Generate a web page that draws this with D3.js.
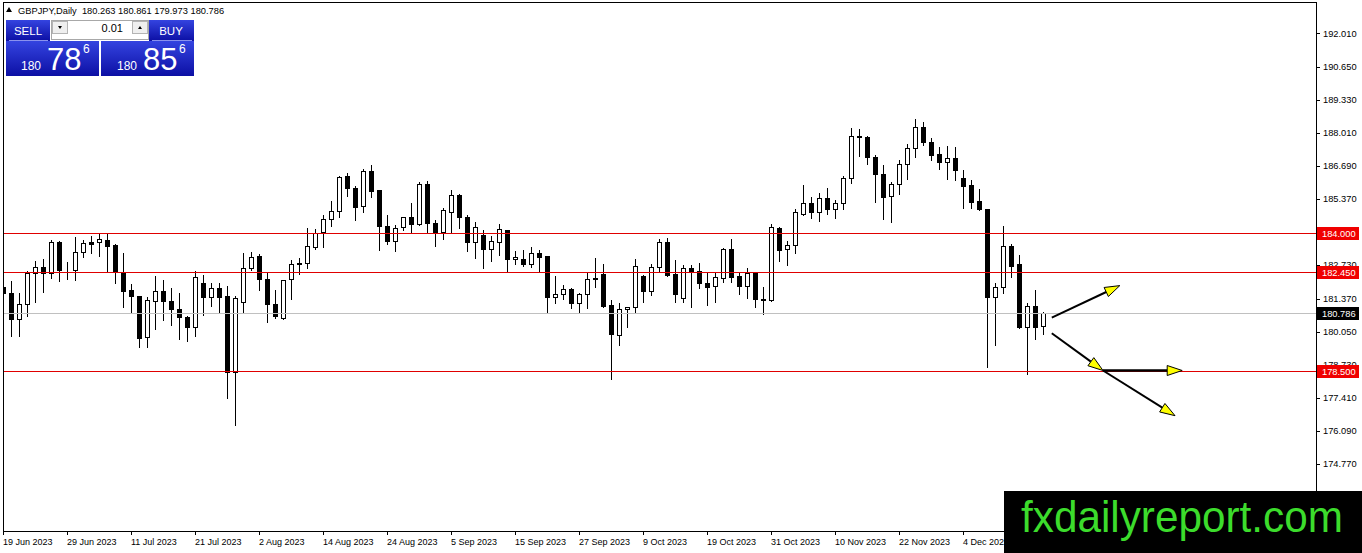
<!DOCTYPE html>
<html>
<head>
<meta charset="utf-8">
<script src="https://cdnjs.cloudflare.com/ajax/libs/d3/7.8.5/d3.min.js"></script>
<style>
  body { margin: 0; background: #fff; overflow: hidden; }
  svg { display: block; }
  text { font-family: "Liberation Sans", Arial, sans-serif; }
</style>
</head>
<body>
<div id="chart"></div>
<script>
// GBPJPY daily candles, 19 Jun 2023 .. 18 Dec 2023
const opens = [181.86,181.60,180.56,181.16,182.39,182.63,182.39,183.63,182.57,182.54,
  183.23,183.63,183.63,183.72,183.52,182.43,181.73,181.50,179.86,181.29,
  181.70,181.30,180.96,180.64,180.24,181.99,181.46,181.80,181.49,178.44,
  181.24,182.59,183.10,182.17,181.16,180.60,182.15,182.79,182.79,183.43,
  184.05,184.55,184.89,186.28,185.83,185.09,186.48,185.72,184.28,183.69,
  184.23,184.64,184.36,185.99,184.39,184.05,184.85,185.55,184.63,183.65,
  183.92,183.35,183.65,184.12,182.95,182.96,182.75,183.21,183.08,181.46,
  181.55,181.77,181.20,181.55,182.19,182.35,181.13,179.93,180.96,181.04,
  182.29,181.70,182.66,183.63,182.35,181.40,182.59,182.49,181.99,181.89,
  182.19,183.36,182.29,181.90,182.42,181.36,181.33,184.21,183.35,183.52,
  184.75,185.19,184.85,185.43,184.95,185.19,186.22,187.88,187.87,187.07,
  186.38,185.49,185.99,186.78,187.42,188.27,187.65,187.18,186.85,187.02,
  186.22,185.92,185.29,184.96,181.46,181.86,183.48,182.75,180.26,181.10,
  180.263];
const highs = [182.13,182.09,181.60,182.50,182.90,182.96,183.72,183.68,182.83,183.83,
  183.72,183.89,183.99,183.99,183.56,183.20,181.95,181.50,181.44,182.29,
  182.13,181.80,181.60,180.69,182.49,182.33,182.02,182.02,181.89,181.49,
  183.19,183.23,183.16,182.43,181.73,182.13,182.92,183.02,184.21,184.16,
  184.72,185.28,186.28,186.42,185.89,186.58,186.72,185.72,184.72,184.32,
  184.64,185.19,186.05,186.08,184.52,185.01,185.72,185.59,184.72,184.43,
  184.12,183.89,184.36,184.14,183.28,183.32,183.45,183.32,183.08,182.29,
  181.91,181.80,181.62,182.39,182.99,182.76,181.33,181.22,181.05,182.96,
  182.31,182.75,183.75,183.79,182.92,182.72,182.72,182.79,182.43,182.39,
  183.42,183.75,182.42,182.59,182.42,181.86,184.36,184.24,183.68,184.96,
  185.92,185.45,185.63,185.83,185.32,186.28,188.22,188.18,187.91,187.14,
  186.74,186.05,186.94,187.58,188.58,188.44,187.82,187.45,187.51,187.47,
  186.52,186.14,185.76,184.98,181.99,184.28,183.56,183.12,181.20,181.73,
  180.861];
const lows = [181.20,179.90,179.90,180.70,181.24,181.66,182.19,182.10,182.17,182.13,
  183.06,183.19,183.10,182.43,181.99,181.06,180.80,179.46,179.46,180.17,
  180.53,180.33,179.77,179.70,179.90,180.73,181.10,180.86,177.41,176.31,
  180.82,182.53,181.73,180.46,180.60,180.57,181.36,182.35,182.62,183.35,
  183.43,184.29,184.65,185.49,184.52,184.83,185.45,183.32,183.55,183.28,
  184.12,183.99,184.32,183.99,183.50,183.76,184.03,184.19,183.30,183.02,
  182.62,182.90,183.12,182.46,182.75,182.68,182.66,182.46,180.82,181.20,
  181.38,181.02,180.86,181.02,181.86,181.05,178.14,179.53,180.26,180.80,
  181.24,181.53,182.46,182.29,181.24,181.26,181.06,181.80,181.13,181.24,
  182.06,182.06,181.57,181.40,181.04,180.76,181.30,182.90,182.72,183.19,
  184.72,184.59,184.48,184.75,184.59,184.95,186.01,187.11,186.78,185.25,
  184.56,184.43,185.59,186.18,187.05,187.54,186.95,186.58,186.18,186.14,
  185.01,185.01,184.93,178.63,179.53,181.62,182.23,180.20,178.34,179.77,
  179.973];
const closes = [181.60,180.56,181.16,182.39,182.66,182.39,183.63,182.54,182.55,183.23,
  183.59,183.57,183.75,183.50,182.43,181.70,181.50,179.82,181.33,181.70,
  181.30,180.96,180.66,180.24,182.23,181.46,181.80,181.46,178.43,181.40,
  182.59,183.06,182.15,181.16,180.69,182.13,182.75,182.75,183.48,183.99,
  184.55,184.89,186.25,185.83,185.05,186.48,185.69,184.29,183.69,184.19,
  184.63,184.36,185.99,184.39,184.03,184.92,185.55,184.63,183.65,184.23,
  183.35,183.68,184.15,182.95,183.03,182.75,183.21,183.06,181.46,181.55,
  181.77,181.20,181.55,182.17,182.15,181.10,179.96,180.96,181.04,182.70,
  181.70,182.66,183.63,182.33,181.57,182.59,182.46,181.99,181.86,182.23,
  183.36,182.26,181.90,182.39,181.36,181.32,184.23,183.32,183.52,184.83,
  185.19,184.85,185.43,184.95,185.19,186.22,187.88,187.84,187.05,186.36,
  185.45,185.99,186.78,187.42,188.27,187.65,187.14,186.85,187.02,186.52,
  185.89,185.25,184.95,181.46,181.86,183.48,182.70,180.24,181.10,180.26,
  180.786];

const dateLabels = ["19 Jun 2023","29 Jun 2023","11 Jul 2023","21 Jul 2023","2 Aug 2023",
  "14 Aug 2023","24 Aug 2023","5 Sep 2023","15 Sep 2023","27 Sep 2023","9 Oct 2023",
  "19 Oct 2023","31 Oct 2023","10 Nov 2023","22 Nov 2023","4 Dec 2023"];
const dateBars = [0,8,16,24,32,40,48,56,64,72,80,88,96,104,112,120];

const priceTicks = [192.010,190.650,189.330,188.010,186.690,185.370,184.050,
  182.730,181.370,180.050,178.730,177.410,176.090,174.770];
const levels = [184.000, 182.450, 178.500];
const bidPrice = 180.786;

const symbolText = "GBPJPY,Daily";
const ohlcText = ["180.263","180.861","179.973","180.786"];
const lotSize = "0.01";
const sellQuote = ["180","78","6"];
const buyQuote = ["180","85","6"];

// hand-drawn arrows: bar index / price at both ends
const arrows = [
  {b1: 131.1, p1: 180.62, b2: 139.6, p2: 181.90, w: 2},
  {b1: 131.1, p1: 179.99, b2: 137.5, p2: 178.50, w: 2},
  {b1: 137.5, p1: 178.50, b2: 146.5, p2: 176.69, w: 2},
  {b1: 137.5, p1: 178.50, b2: 147.4, p2: 178.50, w: 2.5}
];

const W = 1362, H = 553;
const plotR = 1316, plotB = 531;

const svg = d3.select("#chart").append("svg")
  .attr("width", W).attr("height", H);

const x = d3.scaleLinear().domain([0, 164]).range([3, 1315]);
const y = d3.scaleLinear().domain([178.5, 184]).range([370.5, 233.2]);
const px = v => Math.round(x(v)) + 0.5;
const py = v => Math.round(y(v)) + 0.5;

const defs = svg.append("defs");
defs.append("clipPath").attr("id", "plot")
  .append("rect").attr("x", 4).attr("y", 3).attr("width", plotR - 4).attr("height", plotB - 3);
const grad = defs.append("linearGradient").attr("id", "blue")
  .attr("x1", 0).attr("y1", 0).attr("x2", 0).attr("y2", 1);
grad.append("stop").attr("offset", "0%").attr("stop-color", "#3444e0");
grad.append("stop").attr("offset", "100%").attr("stop-color", "#0c0fa4");

svg.append("rect").attr("width", W).attr("height", H).attr("fill", "#fff");

const plot = svg.append("g").attr("clip-path", "url(#plot)");

// candles
const bars = d3.range(opens.length);
plot.selectAll("line.wick").data(bars).enter().append("line")
  .attr("x1", i => px(i)).attr("x2", i => px(i))
  .attr("y1", i => Math.round(y(highs[i]))).attr("y2", i => Math.round(y(lows[i])) + 1)
  .attr("stroke", "#000").attr("stroke-width", 1);

plot.selectAll("rect.body").data(bars).enter().append("rect")
  .attr("x", i => px(i) - 2)
  .attr("y", i => py(Math.max(opens[i], closes[i])))
  .attr("width", 4)
  .attr("height", i => Math.max(0, py(Math.min(opens[i], closes[i])) - py(Math.max(opens[i], closes[i]))))
  .attr("fill", i => closes[i] >= opens[i] ? "#fff" : "#000")
  .attr("stroke", "#000").attr("stroke-width", 1);

// horizontal levels and bid line
plot.append("line")
  .attr("x1", 3).attr("x2", plotR).attr("y1", py(bidPrice)).attr("y2", py(bidPrice))
  .attr("stroke", "#c0c0c0");
plot.selectAll("line.level").data(levels).enter().append("line")
  .attr("x1", 3).attr("x2", plotR)
  .attr("y1", d => py(d)).attr("y2", d => py(d))
  .attr("stroke", "#e00000");

// frame
svg.append("rect").attr("x", 3.5).attr("y", 2.5)
  .attr("width", plotR - 3).attr("height", plotB - 2)
  .attr("fill", "none").attr("stroke", "#000");

// price axis
const axisFont = 9.3;
priceTicks.forEach(t => {
  svg.append("line").attr("x1", plotR).attr("x2", plotR + 4)
    .attr("y1", py(t)).attr("y2", py(t)).attr("stroke", "#000");
  svg.append("text").attr("x", 1323).attr("y", y(t) + 3.3)
    .attr("font-size", axisFont).attr("fill", "#000").text(t.toFixed(3));
});

function priceBox(p, fill) {
  const yy = Math.round(y(p));
  svg.append("rect").attr("x", 1317).attr("y", yy - 6).attr("width", 42).attr("height", 13)
    .attr("fill", fill);
  svg.append("text").attr("x", 1322).attr("y", yy + 4)
    .attr("font-size", axisFont).attr("fill", "#fff").text(p.toFixed(3));
}
levels.forEach(l => priceBox(l, "#f00000"));
priceBox(bidPrice, "#000");

// time axis
dateBars.forEach((b, k) => {
  svg.append("line").attr("x1", px(b)).attr("x2", px(b))
    .attr("y1", plotB).attr("y2", plotB + 4).attr("stroke", "#000");
  svg.append("text").attr("x", Math.round(x(b))).attr("y", 545)
    .attr("font-size", 9).attr("fill", "#000").text(dateLabels[k]);
});

// header
svg.append("path").attr("d", "M6,12 L9,7 L12,12 Z").attr("fill", "#000");
svg.append("text").attr("x", 18).attr("y", 13.5).attr("font-size", 9.3)
  .attr("xml:space", "preserve").style("white-space", "pre")
  .text(symbolText + "  " + ohlcText.join(" "));

// one-click trading panel
const panel = svg.append("g");
panel.append("rect").attr("x", 6).attr("y", 20).attr("width", 44).attr("height", 21).attr("fill", "url(#blue)");
panel.append("rect").attr("x", 149).attr("y", 20).attr("width", 45).attr("height", 21).attr("fill", "url(#blue)");
panel.append("rect").attr("x", 6).attr("y", 41).attr("width", 93).attr("height", 35).attr("fill", "url(#blue)");
panel.append("rect").attr("x", 101).attr("y", 41).attr("width", 93).attr("height", 35).attr("fill", "url(#blue)");
panel.append("line").attr("x1", 9).attr("x2", 48).attr("y1", 40.5).attr("y2", 40.5).attr("stroke", "#8a92ee");
panel.append("line").attr("x1", 152).attr("x2", 192).attr("y1", 40.5).attr("y2", 40.5).attr("stroke", "#8a92ee");

panel.append("rect").attr("x", 51.5).attr("y", 20.5).attr("width", 97).attr("height", 19)
  .attr("fill", "#fff").attr("stroke", "#a8a8a8");
panel.append("rect").attr("x", 52.5).attr("y", 21.5).attr("width", 15).attr("height", 12)
  .attr("fill", "#efefef").attr("stroke", "#b4b4b4");
panel.append("rect").attr("x", 132.5).attr("y", 21.5).attr("width", 15).attr("height", 12)
  .attr("fill", "#efefef").attr("stroke", "#b4b4b4");
panel.append("path").attr("d", "M58,26 L62,26 L60,29 Z").attr("fill", "#000");
panel.append("path").attr("d", "M138,29 L142,29 L140,26 Z").attr("fill", "#000");
panel.append("text").attr("x", 123).attr("y", 32).attr("text-anchor", "end")
  .attr("font-size", 11).attr("fill", "#000").text(lotSize);

panel.append("text").attr("x", 28).attr("y", 35).attr("text-anchor", "middle")
  .attr("font-size", 11.5).attr("fill", "#fff").text("SELL");
panel.append("text").attr("x", 171).attr("y", 35).attr("text-anchor", "middle")
  .attr("font-size", 11.5).attr("fill", "#fff").text("BUY");

function quote(q, x0) {
  panel.append("text").attr("x", x0).attr("y", 70).attr("font-size", 12).attr("fill", "#fff").text(q[0]);
  panel.append("text").attr("x", x0 + 26).attr("y", 70).attr("font-size", 31).attr("fill", "#fff").text(q[1]);
  panel.append("text").attr("x", x0 + 62).attr("y", 53).attr("font-size", 12).attr("fill", "#fff").text(q[2]);
}
quote(sellQuote, 21);
quote(buyQuote, 117);

// arrows
const ag = svg.append("g");
arrows.forEach(a => {
  const x1 = x(a.b1), y1 = y(a.p1), x2 = x(a.b2), y2 = y(a.p2);
  const ang = Math.atan2(y2 - y1, x2 - x1);
  const L = 15, hw = 5;
  const bx = x2 - L * Math.cos(ang), by = y2 - L * Math.sin(ang);
  ag.append("line").attr("x1", x1).attr("y1", y1).attr("x2", bx).attr("y2", by)
    .attr("stroke", "#000").attr("stroke-width", a.w);
  const pts = [[x2, y2],
    [bx + hw * Math.sin(ang), by - hw * Math.cos(ang)],
    [bx - hw * Math.sin(ang), by + hw * Math.cos(ang)]];
  ag.append("path").attr("d", "M" + pts.map(p => p.join(",")).join("L") + "Z")
    .attr("fill", "#ffff00").attr("stroke", "#000").attr("stroke-width", 1);
});

// watermark
svg.append("rect").attr("x", 1004).attr("y", 491).attr("width", W - 1004).attr("height", H - 491)
  .attr("fill", "#000");
svg.append("text").attr("x", 1021).attr("y", 532)
  .attr("font-size", 45).attr("fill", "#3cdc2c")
  .attr("textLength", 322).attr("lengthAdjust", "spacingAndGlyphs")
  .text("fxdailyreport.com");
</script>
</body>
</html>
